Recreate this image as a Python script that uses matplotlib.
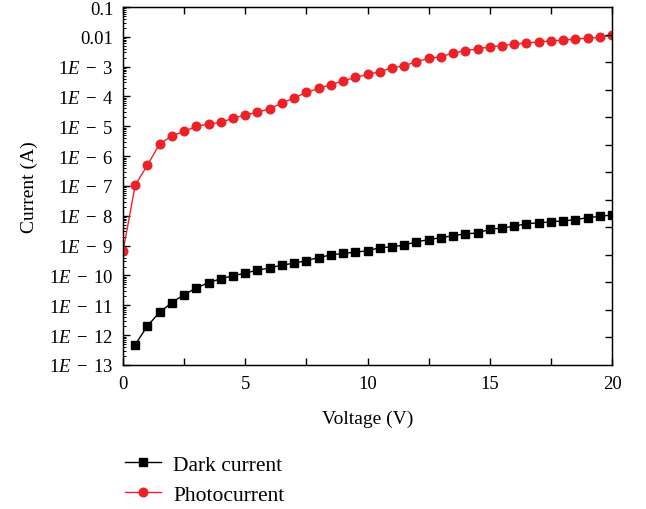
import matplotlib
matplotlib.use('Agg')
import matplotlib.pyplot as plt
import numpy as np
from matplotlib.ticker import FixedLocator, FixedFormatter, LogLocator, NullFormatter

plt.rcParams['font.family'] = 'Liberation Serif'
plt.rcParams['mathtext.fontset'] = 'custom'
plt.rcParams['mathtext.rm'] = 'Liberation Serif'
plt.rcParams['mathtext.it'] = 'Liberation Serif:italic'

# Data (log10 of current)
v_dark = np.arange(0.5, 20.01, 0.5)
log_dark = [-12.32, -11.69, -11.23, -10.91, -10.64, -10.42, -10.24, -10.11, -10.01, -9.92,
            -9.82, -9.75, -9.65, -9.59, -9.50, -9.40, -9.31, -9.26, -9.22, -9.17,
            -9.07, -9.04, -8.98, -8.87, -8.80, -8.73, -8.67, -8.60, -8.58, -8.45,
            -8.41, -8.35, -8.26, -8.24, -8.20, -8.17, -8.13, -8.06, -8.02, -7.97]

v_photo = np.arange(0, 20.01, 0.5)
log_photo = [-9.19, -6.97, -6.30, -5.59, -5.32, -5.17, -5.00, -4.92, -4.87, -4.73,
             -4.62, -4.53, -4.41, -4.22, -4.05, -3.86, -3.73, -3.60, -3.48, -3.36,
             -3.26, -3.17, -3.04, -2.97, -2.83, -2.72, -2.67, -2.54, -2.46, -2.41,
             -2.33, -2.30, -2.24, -2.21, -2.17, -2.14, -2.11, -2.07, -2.05, -2.02, -1.94]

dark = 10.0 ** np.array(log_dark)
photo = 10.0 ** np.array(log_photo)

y_ticks = [10.0 ** k for k in range(-13, 0)]
y_labels = [r'$1E\;-\;%d$' % k for k in range(13, 2, -1)] + ['0.01', '0.1']

fig = plt.figure(figsize=(6.46, 5.10), dpi=100)
ax = fig.add_axes([0.1904, 0.2824, 0.757, 0.7019])

red = '#ec2227'
ax.plot(v_dark, dark, '-s', color='black', lw=1.0, ms=5.5, label='Dark current')
ax.plot(v_photo, photo, '-o', color=red, lw=1.0, ms=6.2, label='Photocurrent')

ax.set_yscale('log')
ax.set_xlim(0, 20)
ax.set_ylim(1e-13, 0.1)
ax.yaxis.set_major_locator(FixedLocator(y_ticks))
ax.yaxis.set_major_formatter(FixedFormatter(y_labels))
ax.yaxis.set_minor_locator(LogLocator(base=10, subs=np.arange(2, 10), numticks=100))
ax.yaxis.set_minor_formatter(NullFormatter())
ax.set_xticks([0, 5, 10, 15, 20])
ax.set_xticks([2.5, 7.5, 12.5, 17.5], minor=True)

ax.tick_params(axis='both', which='both', direction='in', labelsize=13.5)
ax.tick_params(axis='y', which='major', length=5, width=1, right=False, pad=7)
ax.tick_params(axis='y', which='minor', length=2.5, width=0.7, right=False)
ax.tick_params(axis='x', which='both', length=5, width=1, top=True, pad=7)
for s in ax.spines.values():
    s.set_linewidth(1.0)

# right axis with its own ticks
ax2 = ax.twinx()
ax2.set_ylim(0, 13)
ax2.set_yticks(np.arange(1, 13))
ax2.set_yticklabels([])
ax2.tick_params(axis='y', direction='in', length=5, width=1)

ax.set_xlabel('Voltage (V)', fontsize=14, labelpad=13)
ax.set_ylabel('Current (A)', fontsize=14, labelpad=8)

fig.legend(loc='upper left', bbox_to_anchor=(0.1935, 0.106), frameon=False, fontsize=15.5,
           handlelength=1.65, handletextpad=0.6, labelspacing=0.45,
           borderpad=0, borderaxespad=0)

fig.savefig('out.png', dpi=100)
